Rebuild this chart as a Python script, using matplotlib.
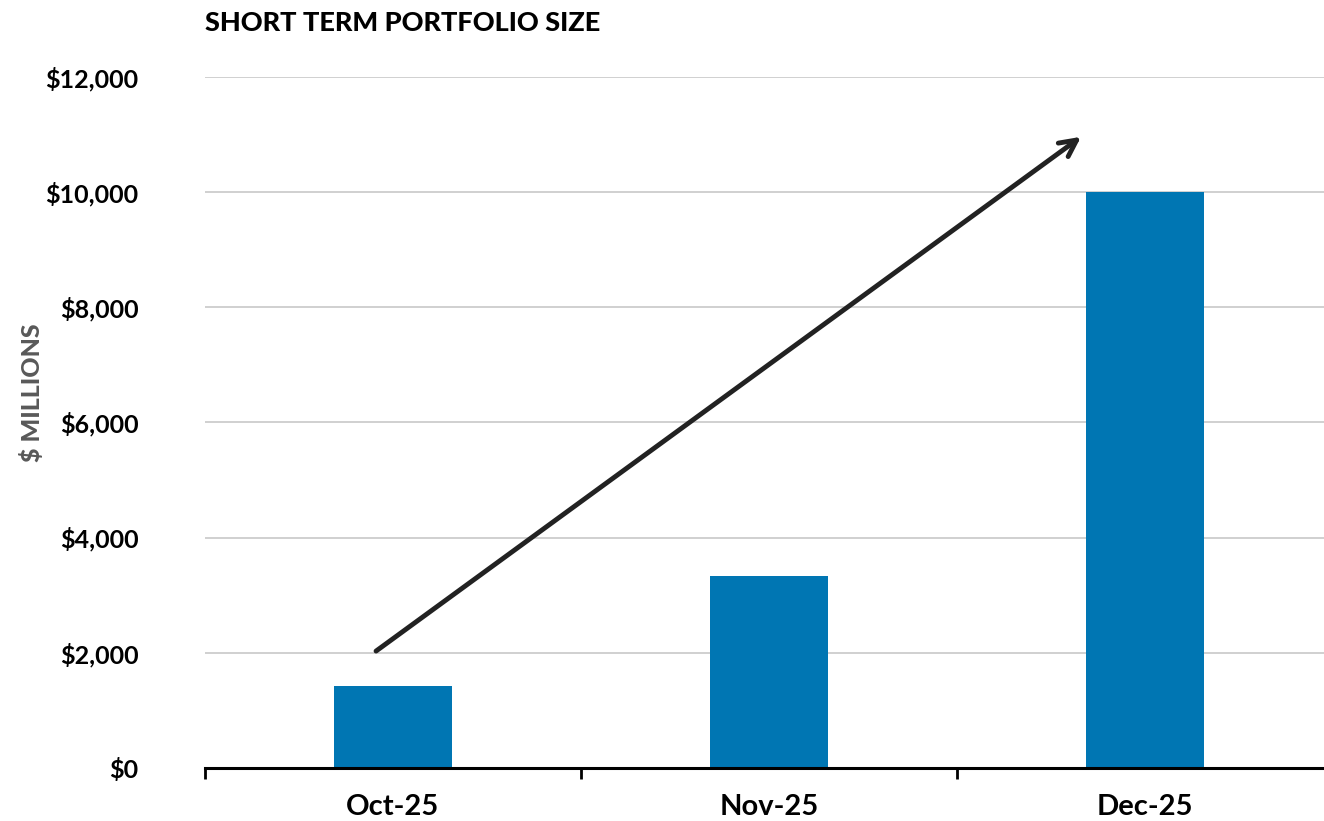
import matplotlib.pyplot as plt
from matplotlib.ticker import FuncFormatter

# Data
months = ["Oct-25", "Nov-25", "Dec-25"]
portfolio = [1420, 3330, 10000]
yticks = [0, 2000, 4000, 6000, 8000, 10000, 12000]

# arrow start / end (category index, $ millions)
arrow_start = (-0.045, 2030)
arrow_end = (1.83, 10960)

plt.rcParams['font.family'] = ['Lato', 'DejaVu Sans']

fig = plt.figure(figsize=(13.24, 8.21), dpi=100)
ax = fig.add_axes([0.1548, 0.0646, 0.852, 0.8417])

x = range(len(months))
ax.bar(x, portfolio, width=0.314, color="#0076B3", zorder=3)

ax.set_xlim(-0.5, 2.5)
ax.set_ylim(0, 12000)
ax.set_yticks(yticks)
ax.yaxis.set_major_formatter(FuncFormatter(lambda v, p: "${:,.0f}".format(v)))
ax.grid(axis="y", color="#c8c8c8", linewidth=1.2, zorder=0)

# category labels in the middle, tick marks on the boundaries
ax.set_xticks([-0.5, 0.5, 1.5, 2.5])
ax.set_xticklabels([])
ax.set_xticks(list(x), minor=True)
ax.set_xticklabels(months, minor=True, fontsize=21, fontweight="bold")
ax.tick_params(axis="x", which="major", length=8, width=2, direction="out", color="black")
ax.tick_params(axis="x", which="minor", length=0, pad=19)
ax.tick_params(axis="y", length=0, labelsize=18, pad=48)
for lbl in ax.get_yticklabels():
    lbl.set_fontweight("bold")

for s in ["top", "right", "left"]:
    ax.spines[s].set_visible(False)
ax.spines["bottom"].set_linewidth(2.2)
ax.spines["bottom"].set_zorder(4)

ax.annotate("", xy=arrow_end, xytext=arrow_start,
            arrowprops=dict(arrowstyle="->", color="#222222", lw=3.5,
                            mutation_scale=30, shrinkA=0, shrinkB=0),
            zorder=5)

fig.text(0.1548, 0.972, "SHORT TERM PORTFOLIO SIZE", fontsize=19.5, fontweight="black",
         ha="left", va="center")
fig.text(0.024, 0.522, "$ MILLIONS", fontsize=18, fontweight="black", color="#595959",
         rotation=90, ha="center", va="center")

fig.savefig("out.png", dpi=100)
